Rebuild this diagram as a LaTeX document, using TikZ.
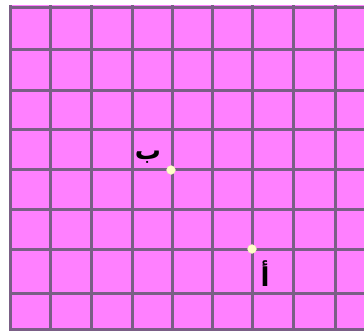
\documentclass[tikz,border=0pt]{standalone}
\usepackage{fontspec}
\newfontfamily\arabicfont[Script=Arabic]{DejaVu Sans}
\TeXXeTstate=1
\definecolor{gridpink}{HTML}{FF80FF}
\definecolor{gridline}{HTML}{7A5E86}
\definecolor{ptfill}{HTML}{FFFFC8}
\begin{document}
\begin{tikzpicture}[x=1pt,y=-1pt,
  gl/.style={draw=gridline,line width=3.0pt},
  pt/.style={circle,fill=ptfill,draw=ptfill!80!gray,line width=0.3pt,inner sep=0pt,minimum size=9pt},
  lbl/.style={font=\arabicfont\bfseries\fontsize{26}{27}\selectfont,inner sep=0pt}]
\useasboundingbox (0,0) rectangle (364,333);
\fill[gridpink] (9,5) rectangle (364,330);
\foreach \x in {10,50,91,132,172,212,252,293,335}
  \draw[gl] (\x,5) -- (\x,330);
\foreach \y in {7,49,90,129,169,209,249,293,329}
  \draw[gl] (9,\y) -- (364,\y);
\node[pt] (b) at (171,170) {};
\node[pt] (a) at (252,249) {};
\node[lbl] (lb) at (148,157) {\beginR ب\endR};
\node[lbl] (la) at (265,274) {\beginR أ\endR};
\end{tikzpicture}
\end{document}
